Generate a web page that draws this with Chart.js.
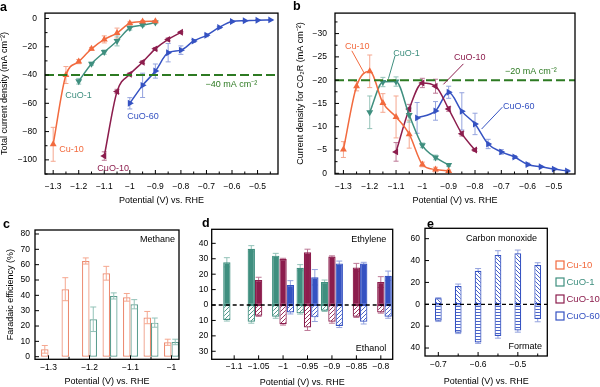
<!DOCTYPE html>
<html>
<head>
<meta charset="utf-8">
<script src="https://cdn.jsdelivr.net/npm/chart.js@4.4.0/dist/chart.umd.min.js"></script>
<style>
body { margin: 0; background: #fff; width: 600px; height: 387px; position: relative; overflow: hidden; }
canvas { position: absolute; }
</style>
</head>
<body>
<canvas id="pa" width="290" height="210" style="left:0;top:0"></canvas>
<canvas id="pb" width="310" height="210" style="left:290px;top:0"></canvas>
<canvas id="pc" width="200" height="177" style="left:0;top:210px"></canvas>
<canvas id="pd" width="210" height="177" style="left:190px;top:210px"></canvas>
<canvas id="pe" width="200" height="177" style="left:400px;top:210px"></canvas>
<script>
// series
var seriesNames = ['Cu-10', 'CuO-1', 'CuO-10', 'CuO-60'];
var seriesColors = ['#F26A3E', '#3F8F7F', '#8C1D4D', '#3552C2'];
var errColors = ['#F5A78F', '#93C2B8', '#BD7896', '#94A3DE'];
var barColorsC = ['#EC8A70', '#5C9D8F'];
var green = '#2D7A22';

// a: total current density
var potA_Cu10 = [-1.3, -1.25, -1.2, -1.15, -1.1, -1.05, -1.0, -0.95, -0.9];
var jA_Cu10 = [-89, -40, -30.5, -21.5, -14.8, -10.3, -3.4, -2.2, -2.0];
var errA_Cu10 = [12, 6, 1.5, 1, 2.5, 3.5, 1, 0.8, 0.5];
var potA_CuO1 = [-1.2, -1.15, -1.1, -1.05, -1.0, -0.95, -0.9];
var jA_CuO1 = [-44.4, -32, -23.8, -15.9, -6.7, -4.7, -2.9];
var errA_CuO1 = [2, 1, 1.5, 3.5, 1.5, 1, 0.8];
var potA_CuO10 = [-1.1, -1.05, -1.0, -0.95, -0.9, -0.85, -0.8];
var jA_CuO10 = [-97.3, -51.6, -39.5, -30.9, -21.5, -14.8, -9.8];
var errA_CuO10 = [3, 1.5, 1, 1, 1, 1, 0.5];
var potA_CuO60 = [-1.0, -0.95, -0.9, -0.85, -0.8, -0.75, -0.7, -0.65, -0.6, -0.55, -0.5, -0.45];
var jA_CuO60 = [-60, -47.3, -37.2, -24.2, -22.4, -15.9, -11.9, -6.3, -2.2, -1.6, -1.2, -1.0];
var errA_CuO60 = [4, 8.6, 5, 6.5, 3, 1, 1, 0.5, 0.5, 0.3, 0.3, 0.3];

// b: CO2R current density
var potB_Cu10 = [-1.3, -1.25, -1.2, -1.15, -1.1, -1.05, -1.0, -0.95, -0.9];
var jB_Cu10 = [-5.1, -18.7, -21.9, -15.1, -12.1, -8.4, -1.9, -0.8, -0.5];
var errB_Cu10 = [1.7, 1, 3.5, 2, 4.5, 3, 0.5, 0.5, 0.2];
var potB_CuO1 = [-1.2, -1.15, -1.1, -1.05, -1.0, -0.95, -0.9];
var jB_CuO1 = [-13.1, -19.6, -19.7, -12.5, -6.0, -3.4, -1.8];
var errB_CuO1 = [3.5, 1, 1, 1.5, 0.5, 0.5, 0.3];
var potB_CuO10 = [-1.1, -1.05, -1.0, -0.95, -0.9, -0.85, -0.8];
var jB_CuO10 = [-4.6, -13.8, -19.4, -18.7, -13.8, -8.5, -5.0];
var errB_CuO10 = [2, 1, 1, 1.5, 0.5, 0.5, 0.3];
var potB_CuO60 = [-1.02, -0.95, -0.9, -0.85, -0.8, -0.75, -0.7, -0.65, -0.6, -0.55, -0.5, -0.45];
var jB_CuO60 = [-11.9, -13.4, -17.4, -13.3, -10.6, -6.3, -4.6, -3.5, -1.9, -1.4, -0.9, -0.5];
var errB_CuO60 = [3.3, 2, 1.3, 4, 2.3, 1, 0.5, 0.3, 0.3, 0.2, 0.2, 0.2];

// c: methane FE
var potC_Cu10 = [-1.3, -1.25, -1.2, -1.15, -1.1, -1.05, -1.0];
var feCH4_Cu10 = [4.8, 44, 62.4, 54.4, 38.7, 25.5, 9.4];
var errCH4_Cu10 = [2.5, 7.5, 2, 4.5, 2.5, 4, 2];
var potC_CuO1 = [-1.2, -1.15, -1.1, -1.05, -1.0];
var feCH4_CuO1 = [24.4, 39.6, 34.2, 22.2, 9.6];
var errCH4_CuO1 = [8, 2, 3, 3, 1.8];

// d: ethylene (up) and ethanol (down) FE
var potD_CuO1 = [-1.1, -1.05, -1.0, -0.95, -0.9];
var feC2H4_CuO1 = [27.7, 36.5, 32, 24.2, 14.9];
var errC2H4_CuO1 = [3, 2, 1.5, 2, 1.3];
var feEtOH_CuO1 = [-9.7, -10.8, -7.6, -5.4, -3.7];
var errEtOH_CuO1 = [0.7, 1, 1, 0.5, 0.5];
var potD_CuO10 = [-1.05, -1.0, -0.95, -0.9, -0.85, -0.8];
var feC2H4_CuO10 = [16.2, 29.8, 34.2, 31.4, 24.4, 14.9];
var errC2H4_CuO10 = [1.8, 0.5, 2, 0.5, 2.6, 3.5];
var feEtOH_CuO10 = [-6.9, -12.5, -14.5, -10.8, -7.6, -4.8];
var errEtOH_CuO10 = [0.5, 0.5, 2, 1, 0.5, 0.5];
var potD_CuO60 = [-1.0, -0.95, -0.9, -0.85, -0.8];
var feC2H4_CuO60 = [13, 18, 27, 27, 19];
var errC2H4_CuO60 = [2.8, 5, 1.5, 0.7, 3];
var feEtOH_CuO60 = [-4.8, -8, -13.6, -10.8, -7.6];
var errEtOH_CuO60 = [1, 2.7, 1, 1.5, 1];

// e: CO (up) and formate (down) FE
var potE = [-0.7, -0.65, -0.6, -0.55, -0.5, -0.45];
var feCO_CuO60 = [5.5, 16.7, 30.7, 45, 46.6, 36];
var errCO_CuO60 = [0.5, 1.8, 2, 4, 3, 2];
var feHCOO_CuO60 = [-15, -26, -35, -29, -24, -13.5];
var errHCOO_CuO60 = [0.8, 0.8, 0.8, 2, 1.5, 2.5];

// ticks
var ticksPotAB = [-1.3, -1.2, -1.1, -1.0, -0.9, -0.8, -0.7, -0.6, -0.5];
var minorPotAB = [-1.25, -1.15, -1.05, -0.95, -0.85, -0.75, -0.65, -0.55, -0.45];
var ticksJA = [0, -20, -40, -60, -80, -100];
var minorJA = [-10, -30, -50, -70, -90, -110];
var ticksJB = [0, -5, -10, -15, -20, -25, -30];
var minorJB = [-2.5, -7.5, -12.5, -17.5, -22.5, -27.5, -32.5];
var ticksPotC = [-1.3, -1.2, -1.1, -1.0];
var minorPotC = [-1.25, -1.15, -1.05];
var ticksFeC = [0, 10, 20, 30, 40, 50, 60, 70, 80];
var ticksPotD = [-1.1, -1.05, -1.0, -0.95, -0.9, -0.85, -0.8];
var ticksFeD = [-30, -20, -10, 0, 10, 20, 30, 40];
var ticksPotE = [-0.7, -0.6, -0.5];
var minorPotE = [-0.65, -0.55, -0.45];
var ticksFeE = [-40, -20, 0, 20, 40, 60];

var FONT = "'Liberation Sans', Arial, Helvetica, sans-serif";
Chart.defaults.font.family = FONT;
Chart.defaults.font.size = 8.5;
Chart.defaults.color = '#000';

var num = function (v) { return (v < 0 ? '\u2212' : '') + parseFloat(Math.abs(v).toFixed(2)); };
var absNum = function (v) { return String(parseFloat(Math.abs(v).toFixed(2))); };

function pts(xs, ys) {
    return xs.map(function (x, i) { return {x: x, y: ys[i]}; });
}

function hatch(color, kind) {
    var n = kind === '-' ? 3 : 4;
    var c = document.createElement('canvas');
    c.width = n; c.height = n;
    var g = c.getContext('2d');
    g.fillStyle = '#fff';
    g.fillRect(0, 0, n, n);
    g.strokeStyle = color;
    g.lineWidth = 0.9;
    g.beginPath();
    if (kind === '-') {
        g.moveTo(0, 0.5); g.lineTo(n, 0.5);
    } else if (kind === '/') {
        g.moveTo(0, n); g.lineTo(n, 0);
        g.moveTo(-1, 1); g.lineTo(1, -1);
        g.moveTo(n - 1, n + 1); g.lineTo(n + 1, n - 1);
    } else {
        g.moveTo(0, 0); g.lineTo(n, n);
        g.moveTo(-1, n - 1); g.lineTo(1, n + 1);
        g.moveTo(n - 1, -1); g.lineTo(n + 1, 1);
    }
    g.stroke();
    return g.createPattern(c, 'repeat');
}

function lineSet(k, xs, ys, errs, rot) {
    return {
        label: seriesNames[k],
        data: pts(xs, ys),
        errors: errs,
        errorColor: errColors[k],
        borderColor: seriesColors[k],
        backgroundColor: seriesColors[k],
        borderWidth: 1.5,
        pointStyle: 'triangle',
        pointRotation: rot,
        pointRadius: 4,
        pointBorderWidth: 0,
        cubicInterpolationMode: 'monotone'
    };
}

function barSet(k, xs, ys, errs, stack, fill, border, cp) {
    return {
        label: seriesNames[k],
        data: pts(xs, ys),
        errors: errs,
        errorColor: errColors[k],
        stack: stack,
        backgroundColor: fill,
        borderColor: border,
        borderWidth: 1.2,
        borderSkipped: false,
        categoryPercentage: cp,
        barPercentage: 1
    };
}

function xAxis(min, max, ticks, pad, h, tb, size) {
    return {
        type: 'linear', min: min, max: max, offset: false,
        grid: {display: false, drawTicks: false},
        border: {display: false},
        afterBuildTicks: function (s) { s.ticks = ticks.map(function (v) { return {value: v}; }); },
        afterFit: function (s) { s.height = h; },
        ticks: {padding: pad, autoSkip: false, maxRotation: 0, font: {size: size || 8.5}, callback: num},
        title: {display: true, text: 'Potential (V) vs. RHE', font: {size: 9, lineHeight: 1}, padding: {top: 0, bottom: tb}}
    };
}

function yAxis(o) {
    return {
        type: 'linear', min: o.min, max: o.max, reverse: !!o.reverse,
        grid: {display: false, drawTicks: false},
        border: {display: false},
        afterBuildTicks: function (s) { s.ticks = o.ticks.map(function (v) { return {value: v}; }); },
        afterFit: function (s) { s.width = o.w; },
        ticks: {padding: o.pad, autoSkip: false, callback: o.fmt},
        title: {display: !!o.title, text: o.title || '', font: {size: 9, lineHeight: 1}, padding: {top: o.tp || 0, bottom: 0}}
    };
}

function drawErrors(chart, cap) {
    var ctx = chart.ctx, ys = chart.scales.y;
    chart.data.datasets.forEach(function (ds, i) {
        if (!ds.errors) return;
        ctx.strokeStyle = ds.errorColor;
        ctx.lineWidth = 1;
        chart.getDatasetMeta(i).data.forEach(function (el, j) {
            var v = ds.data[j].y, e = ds.errors[j];
            var y1 = ys.getPixelForValue(v - e), y2 = ys.getPixelForValue(v + e);
            ctx.beginPath();
            ctx.moveTo(el.x, y1); ctx.lineTo(el.x, y2);
            ctx.moveTo(el.x - cap, y1); ctx.lineTo(el.x + cap, y1);
            ctx.moveTo(el.x - cap, y2); ctx.lineTo(el.x + cap, y2);
            ctx.stroke();
        });
    });
}

var decor = {
    id: 'decor',
    beforeDatasetsDraw: function (chart, args, o) {
        if (o.errBehind) {
            chart.ctx.save();
            drawErrors(chart, o.cap);
            chart.ctx.restore();
        }
    },
    afterDatasetsDraw: function (chart, args, o) {
        var ctx = chart.ctx, ca = chart.chartArea, y = chart.scales.y;
        ctx.save();
        if (!o.errBehind) drawErrors(chart, o.cap);
        (o.hlines || []).forEach(function (h) {
            var py = y.getPixelForValue(h[0]);
            ctx.strokeStyle = h[1];
            ctx.lineWidth = h[2];
            ctx.setLineDash([h[3], h[4]]);
            ctx.beginPath();
            ctx.moveTo(ca.left, py);
            ctx.lineTo(ca.right, py);
            ctx.stroke();
        });
        ctx.restore();
    },
    afterDraw: function (chart, args, o) {
        var ctx = chart.ctx, ca = chart.chartArea, x = chart.scales.x, y = chart.scales.y;
        ctx.save();
        ctx.strokeStyle = '#000';
        ctx.lineWidth = 1.3;
        ctx.strokeRect(ca.left, ca.top, ca.right - ca.left, ca.bottom - ca.top);
        ctx.lineWidth = 1;
        ctx.beginPath();
        var tx = function (v, len) {
            var p = x.getPixelForValue(v);
            ctx.moveTo(p, ca.bottom); ctx.lineTo(p, ca.bottom - len);
        };
        var ty = function (v, len) {
            var p = y.getPixelForValue(v);
            ctx.moveTo(ca.left, p); ctx.lineTo(ca.left + len, p);
        };
        x.ticks.forEach(function (t) { tx(t.value, 4); });
        (o.minorX || []).forEach(function (v) { tx(v, 2.5); });
        y.ticks.forEach(function (t) { ty(t.value, 4); });
        (o.minorY || []).forEach(function (v) { ty(v, 2.5); });
        ctx.stroke();

        (o.leaders || []).forEach(function (l) {
            ctx.strokeStyle = l[4];
            ctx.lineWidth = 1;
            ctx.beginPath();
            ctx.moveTo(x.getPixelForValue(l[0]), y.getPixelForValue(l[1]));
            ctx.lineTo(x.getPixelForValue(l[2]), y.getPixelForValue(l[3]));
            ctx.stroke();
        });

        ctx.font = '9px ' + FONT;
        ctx.textBaseline = 'middle';
        (o.texts || []).forEach(function (t) {
            ctx.fillStyle = t[3];
            ctx.textAlign = t[4] || 'left';
            ctx.fillText(t[0], x.getPixelForValue(t[1]), y.getPixelForValue(t[2]));
        });

        if (o.legend) {
            ctx.textAlign = 'left';
            ctx.font = '9.5px ' + FONT;
            seriesNames.forEach(function (name, k) {
                var ly = o.legend[1] + k * o.legend[2];
                ctx.strokeStyle = seriesColors[k];
                ctx.lineWidth = 1.2;
                ctx.strokeRect(o.legend[0], ly - 4, 8, 8);
                ctx.fillStyle = seriesColors[k];
                ctx.fillText(name, o.legend[0] + 10.5, ly + 0.5);
            });
        }

        ctx.font = 'bold 12.5px ' + FONT;
        ctx.fillStyle = '#000';
        ctx.textAlign = 'left';
        ctx.fillText(o.label[0], o.label[1], o.label[2]);
        ctx.restore();
    }
};

function opts(padding, x, y, d) {
    return {
        responsive: false,
        animation: false,
        devicePixelRatio: 1,
        layout: {padding: padding},
        scales: {x: x, y: y},
        plugins: {legend: {display: false}, tooltip: {enabled: false}, decor: d}
    };
}

// panel a
new Chart(document.getElementById('pa'), {
    type: 'line',
    data: {datasets: [
        lineSet(0, potA_Cu10, jA_Cu10, errA_Cu10, 0),
        lineSet(1, potA_CuO1, jA_CuO1, errA_CuO1, 180),
        lineSet(2, potA_CuO10, jA_CuO10, errA_CuO10, 270),
        lineSet(3, potA_CuO60, jA_CuO60, errA_CuO60, 90)
    ]},
    options: opts({left: 0, top: 5, right: 12, bottom: 0},
        xAxis(-1.332, -0.42, ticksPotAB, 8, 36, 4.5),
        yAxis({min: -110, max: 3.8, ticks: ticksJA, w: 45, pad: 8, fmt: num, title: 'Total current density (mA cm\u207B\u00B2)', tp: 0.5}),
        {
            errBehind: true, cap: 2.5, minorX: minorPotAB, minorY: minorJA,
            hlines: [[-40, green, 2, 9, 4]],
            texts: [
                ['Cu-10', -1.276, -92.4, seriesColors[0]],
                ['CuO-1', -1.253, -54.7, seriesColors[1]],
                ['CuO-10', -1.127, -105.9, seriesColors[2]],
                ['CuO-60', -1.01, -69.5, seriesColors[3]],
                ['\u221240 mA cm\u207B\u00B2', -0.704, -46.6, green]
            ],
            label: ['a', 0, 8]
        }),
    plugins: [decor]
});

// panel b
new Chart(document.getElementById('pb'), {
    type: 'line',
    data: {datasets: [
        lineSet(0, potB_Cu10, jB_Cu10, errB_Cu10, 0),
        lineSet(1, potB_CuO1, jB_CuO1, errB_CuO1, 180),
        lineSet(2, potB_CuO10, jB_CuO10, errB_CuO10, 270),
        lineSet(3, potB_CuO60, jB_CuO60, errB_CuO60, 90)
    ]},
    options: opts({left: 0, top: 5, right: 25, bottom: 0},
        xAxis(-1.332, -0.42, ticksPotAB, 8, 36, 4.5),
        yAxis({min: -34.4, max: 0.15, reverse: true, ticks: ticksJB, w: 45, pad: 8, fmt: num, title: 'Current density for CO\u2082R (mA cm\u207B\u00B2)', tp: 6.5}),
        {
            errBehind: true, cap: 2.5, minorX: minorPotAB, minorY: minorJB,
            hlines: [[-20, green, 2, 9, 4]],
            leaders: [
                [-1.268, -26.3, -1.221, -21.5, seriesColors[0]],
                [-1.104, -25.2, -1.129, -20.3, seriesColors[1]],
                [-0.844, -23.5, -0.92, -19.1, seriesColors[2]],
                [-0.696, -14.2, -0.775, -9.5, seriesColors[3]]
            ],
            texts: [
                ['Cu-10', -1.294, -27.3, seriesColors[0]],
                ['CuO-1', -1.111, -25.8, seriesColors[1]],
                ['CuO-10', -0.88, -24.8, seriesColors[2]],
                ['CuO-60', -0.694, -14.4, seriesColors[3]],
                ['\u221220 mA cm\u207B\u00B2', -0.686, -21.9, green]
            ],
            label: ['b', 3, 7]
        }),
    plugins: [decor]
});

// panel c
new Chart(document.getElementById('pc'), {
    type: 'bar',
    data: {datasets: [
        barSet(0, potC_Cu10, feCH4_Cu10, errCH4_Cu10, 'c0', '#fff', barColorsC[0], 0.73),
        barSet(1, potC_CuO1, feCH4_CuO1, errCH4_CuO1, 'c1', '#fff', barColorsC[1], 0.73)
    ]},
    options: opts({left: 0, top: 20, right: 21, bottom: 0},
        xAxis(-1.333, -0.9817, ticksPotC, 3.6, 27.7, 0.5),
        yAxis({min: -1.7, max: 82.6, ticks: ticksFeC, w: 35, pad: 5, fmt: absNum, title: 'Faradaic efficiency (%)', tp: 6}),
        {
            errBehind: false, cap: 3, minorX: minorPotC,
            texts: [['Methane', -0.9915, 76.1, '#000', 'right']],
            label: ['c', 3, 15]
        }),
    plugins: [decor]
});

// panel d
new Chart(document.getElementById('pd'), {
    type: 'bar',
    data: {datasets: [
        barSet(1, potD_CuO1, feC2H4_CuO1, errC2H4_CuO1, 'd1', seriesColors[1], seriesColors[1], 0.9),
        barSet(2, potD_CuO10, feC2H4_CuO10, errC2H4_CuO10, 'd2', seriesColors[2], seriesColors[2], 0.9),
        barSet(3, potD_CuO60, feC2H4_CuO60, errC2H4_CuO60, 'd3', seriesColors[3], seriesColors[3], 0.9),
        barSet(1, potD_CuO1, feEtOH_CuO1, errEtOH_CuO1, 'd1', hatch(seriesColors[1], '/'), seriesColors[1], 0.9),
        barSet(2, potD_CuO10, feEtOH_CuO10, errEtOH_CuO10, 'd2', hatch(seriesColors[2], '/'), seriesColors[2], 0.9),
        barSet(3, potD_CuO60, feEtOH_CuO60, errEtOH_CuO60, 'd3', hatch(seriesColors[3], '/'), seriesColors[3], 0.9)
    ]},
    options: opts({left: 0, top: 19.3, right: 7.3, bottom: 0},
        xAxis(-1.146, -0.7757, ticksPotD, 2.3, 27.7, 0.2),
        yAxis({min: -35.2, max: 49.1, ticks: ticksFeD, w: 21.7, pad: 3.5, fmt: absNum}),
        {
            errBehind: true, cap: 3,
            hlines: [[0, '#000', 1.3, 4, 3]],
            texts: [['Ethylene', -0.789, 42.2, '#000', 'right'], ['Ethanol', -0.789, -27.9, '#000', 'right']],
            label: ['d', 12, 13.5]
        }),
    plugins: [decor]
});

// panel e
new Chart(document.getElementById('pe'), {
    type: 'bar',
    data: {datasets: [
        barSet(3, potE, feCO_CuO60, errCO_CuO60, 'e3', hatch(seriesColors[3], '\\'), seriesColors[3], 0.34),
        barSet(3, potE, feHCOO_CuO60, errHCOO_CuO60, 'e3', hatch(seriesColors[3], '-'), seriesColors[3], 0.34)
    ]},
    options: opts({left: 0, top: 18.3, right: 52.7, bottom: 0},
        xAxis(-0.7335, -0.4259, ticksPotE, 3.9, 31, 0.8),
        yAxis({min: -47.3, max: 69.5, ticks: ticksFeE, w: 25, pad: 5, fmt: absNum}),
        {
            errBehind: true, cap: 3, minorX: minorPotE,
            hlines: [[0, '#000', 1.3, 4, 3]],
            texts: [['Carbon monoxide', -0.541, 59.7, '#000', 'center'], ['Formate', -0.439, -39, '#000', 'right']],
            legend: [156, 55, 17],
            label: ['e', 27, 15]
        }),
    plugins: [decor]
});
</script>
</body>
</html>
